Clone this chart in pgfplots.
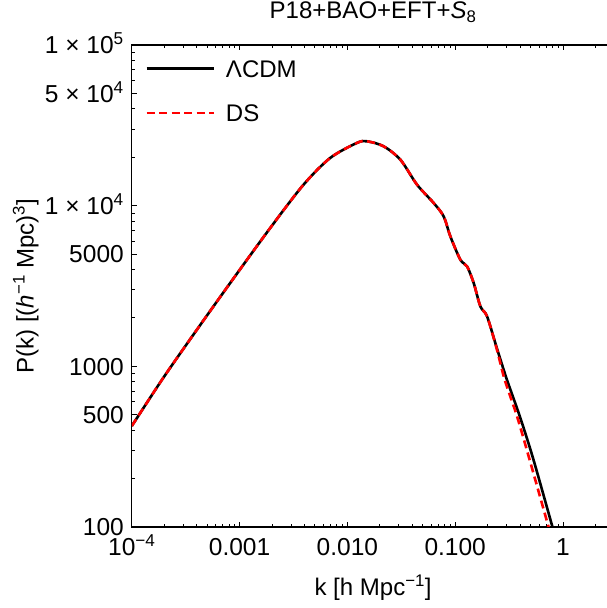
\documentclass[border=0pt]{standalone}
\usepackage{fontspec}
\setmainfont{Liberation Sans}
\usepackage{pgfplots}
\usepackage{pgfplotstable}
\pgfplotsset{compat=1.18}
\newcommand\fs{\fontsize{24bp}{28bp}\selectfont}
\newcommand\ft{\fontsize{24.5bp}{28bp}\selectfont}

% P(k), k in h/Mpc
\pgfplotstableread{
k        P
1e-4     425
1.965e-4 850
4.013e-4 1688
8.178e-4 3299
1.924e-3 7261
3.920e-3 13510
6.937e-3 19830
1.228e-2 24590
1.521e-2 25160
2.168e-2 23420
3.099e-2 19350
4.427e-2 13510
6.316e-2 10390
7.818e-2 8577
9.023e-2 6438
0.1117   4609
0.1289   4186
0.1485   3299
0.1714   2358
0.1978   2043
0.2438   1295
0.3008   832
0.3989   485
0.5300   265
0.7990   100
0.85     87
}\lcdm

\pgfplotstableread{
k        P
1e-4     425
1.965e-4 850
4.013e-4 1688
8.178e-4 3299
1.924e-3 7261
3.920e-3 13510
6.937e-3 19830
1.228e-2 24590
1.521e-2 25160
2.168e-2 23420
3.099e-2 19350
4.427e-2 13510
6.316e-2 10390
7.818e-2 8577
9.023e-2 6438
0.1117   4609
0.1289   4186
0.1485   3299
0.1714   2358
0.1978   2043
0.2420   1295
0.2870   832
0.3760   485
0.4880   265
0.7350   100
0.78     87
}\ds

\begin{document}
\begin{tikzpicture}
\useasboundingbox (-131.7bp,-81bp) rectangle (474.3bp,526.5bp);
\begin{axis}[
    at={(0,0)}, anchor=south west,
    scale only axis, width=482.2bp, height=481.5bp,
    xmode=log, ymode=log,
    xmin=1e-4, xmax=3, ymin=100, ymax=1e5,
    xtick={1e-4,1e-3,1e-2,1e-1,1},
    xticklabels={10\textsuperscript{−4},0.001,0.010,0.100,1},
    minor xtick={2e-4,3e-4,4e-4,5e-4,6e-4,7e-4,8e-4,9e-4,
                 2e-3,3e-3,4e-3,5e-3,6e-3,7e-3,8e-3,9e-3,
                 2e-2,3e-2,4e-2,5e-2,6e-2,7e-2,8e-2,9e-2,
                 0.2,0.3,0.4,0.5,0.6,0.7,0.8,0.9,2,3},
    ytick={100,500,1000,5000,10000,50000,100000},
    yticklabels={100,500,1000,5000,1 × 10\textsuperscript{4},5 × 10\textsuperscript{4},1 × 10\textsuperscript{5}},
    minor ytick={200,300,400,600,700,800,900,
                 2000,3000,4000,6000,7000,8000,9000,
                 20000,30000,40000,60000,70000,80000,90000},
    tick align=inside,
    major tick length=5bp, minor tick length=3bp,
    tick style={black, line width=0.9bp},
    axis line style={line width=1.3bp},
    tick label style={font=\ft},
    xticklabel style={text height=17.4bp, text depth=0pt, inner sep=0pt, yshift=-11bp},
    yticklabel style={text height=17.4bp, text depth=0pt, inner sep=0pt, xshift=-7.8bp},
    label style={font=\fs},
    title style={font=\fs, inner sep=0pt, at={(axis description cs:0.5,1)}, anchor=base, yshift=20.5bp},
    title={P18+BAO+EFT+\textit{S}\textsubscript{8}},
    xlabel={k [h Mpc\textsuperscript{−1}]},
    xlabel style={inner sep=0pt, at={(axis description cs:0.5,0)}, anchor=base, yshift=-69bp},
    ylabel={P(k) [(\textit{h}\textsuperscript{−1} Mpc)\textsuperscript{3}]},
    ylabel style={inner sep=0pt, at={(axis description cs:-0.2032,0.5)}, rotate=0, anchor=base},
    legend cell align=left,
    legend style={at={(axis description cs:0.0276,0.9688)}, anchor=north west,
        draw=none, fill=none, inner sep=0pt, row sep=27bp, font=\fs,
        nodes={inner sep=0pt, text height=17bp, text depth=0pt}},
    legend image code/.code={\draw[#1] (0bp,0bp) -- (67bp,0bp); \path (78bp,0bp);},
]
\addplot[black, line width=2.6bp, smooth, tension=0.5] table[x=k, y=P] {\lcdm};
\addlegendentry{ΛCDM}
\addplot[red, line width=2.6bp, dash pattern=on 8bp off 4.5bp, smooth, tension=0.5] table[x=k, y=P] {\ds};
\addlegendentry{DS}
\end{axis}
\end{tikzpicture}
\end{document}
